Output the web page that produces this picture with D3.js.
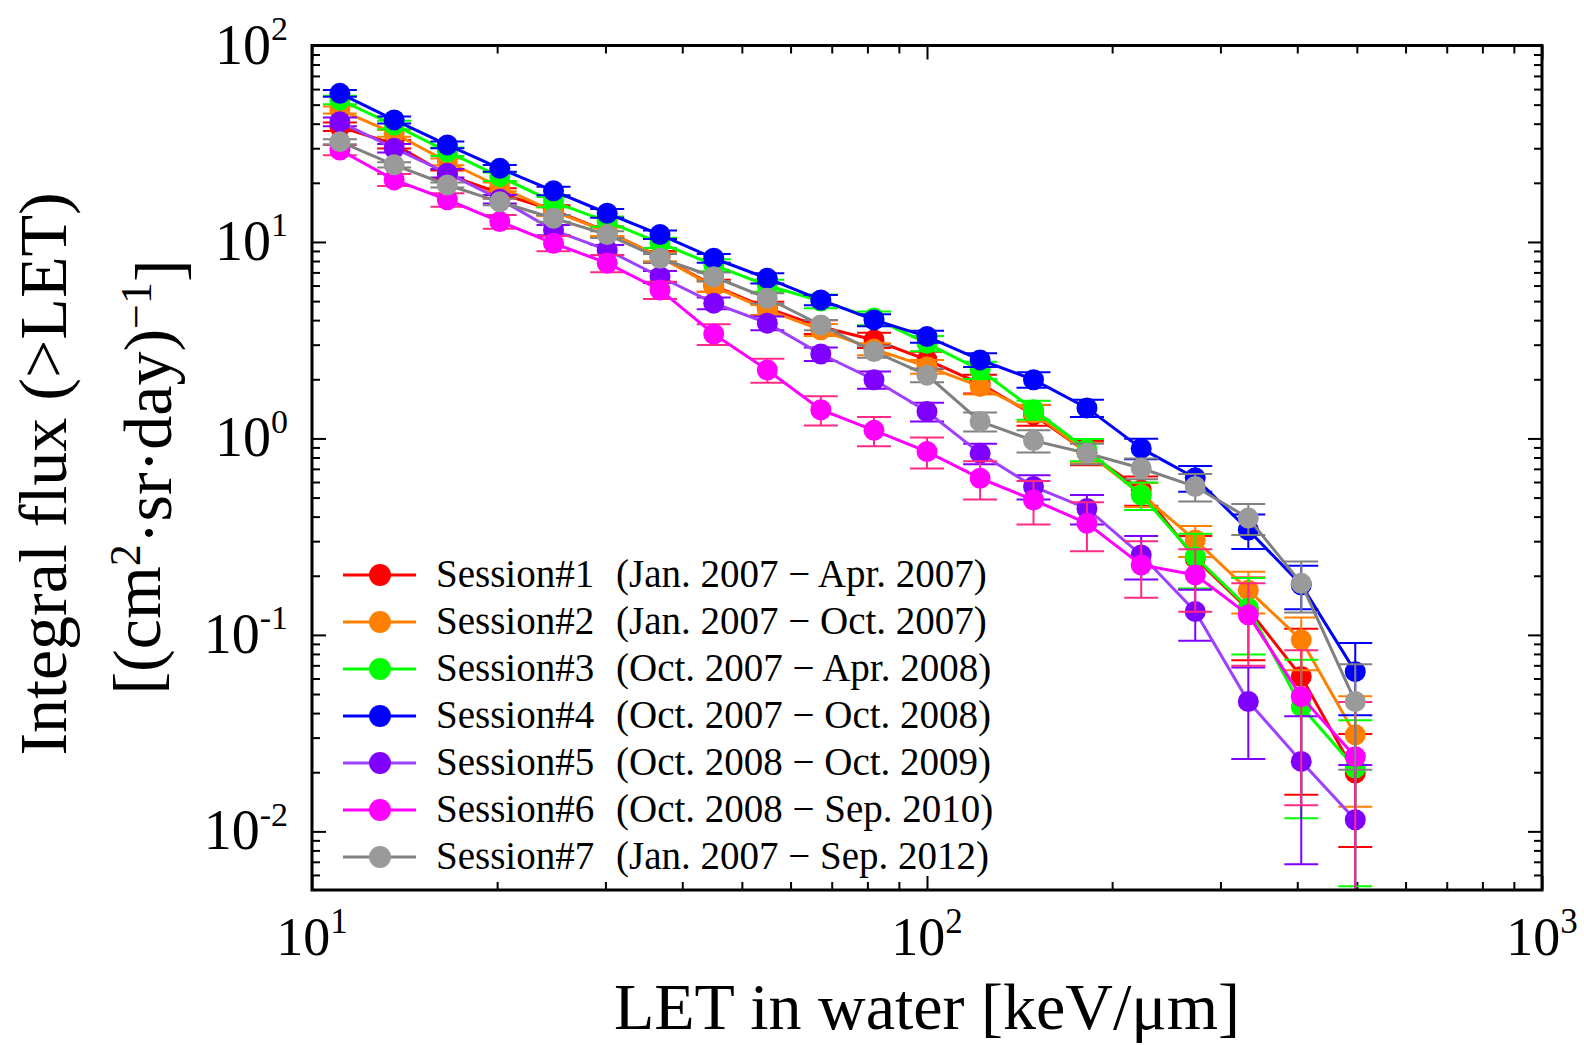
<!DOCTYPE html>
<html>
<head>
<meta charset="utf-8">
<script src="https://cdn.jsdelivr.net/npm/d3@7"></script>
<style>
  body { margin: 0; background: #fff; }
  svg { display: block; }
  text { font-family: "Liberation Serif", "Times New Roman", serif; fill: #000; }
</style>
</head>
<body>
<svg width="1584" height="1045"></svg>
<script>
// LET bin values (keV/um)
var letValues = [11.1, 13.6, 16.6, 20.2, 24.7, 30.2, 36.8, 45.0, 55.0, 67.2,
                 82.0, 100, 122, 149, 182, 223, 273, 333, 406, 497];

var sessionNames = ["Session#1", "Session#2", "Session#3", "Session#4",
                    "Session#5", "Session#6", "Session#7"];
var sessionPeriods = ["(Jan. 2007 \u2212 Apr. 2007)", "(Jan. 2007 \u2212 Oct. 2007)",
                      "(Oct. 2007 \u2212 Apr. 2008)", "(Oct. 2007 \u2212 Oct. 2008)",
                      "(Oct. 2008 \u2212 Oct. 2009)", "(Oct. 2008 \u2212 Sep. 2010)",
                      "(Jan. 2007 \u2212 Sep. 2012)"];

// integral flux per session
var flux1 = [38.6, 31.5, 22.0, 17.7, 14.5, 11.3, 8.4, 6.0, 4.6, 3.7, 3.17, 2.51, 1.9, 1.32, 0.85, 0.547, 0.245, 0.135, 0.0614, 0.0198];
var flux2 = [47, 35.7, 25.6, 19.1, 14.3, 11.3, 8.4, 5.93, 4.51, 3.57, 2.85, 2.32, 1.84, 1.35, 0.85, 0.52, 0.304, 0.169, 0.0944, 0.031];
var flux3 = [52.8, 39.4, 28.8, 21.5, 16, 12.7, 9.9, 7.64, 6.0, 5.0, 4.1, 3.05, 2.23, 1.40, 0.88, 0.515, 0.25, 0.137, 0.0432, 0.021];
var flux4 = [57.1, 41.8, 31.2, 23.7, 18.2, 14.0, 10.9, 8.26, 6.53, 5.07, 4.01, 3.30, 2.51, 1.99, 1.43, 0.89, 0.63, 0.342, 0.18, 0.065];
var flux5 = [40.9, 30, 22.4, 16.5, 11.5, 9.1, 6.65, 4.88, 3.86, 2.69, 1.99, 1.37, 0.84, 0.569, 0.44, 0.255, 0.1315, 0.0458, 0.0227, 0.01146];
var flux6 = [29.4, 20.7, 16.4, 12.7, 9.85, 7.8, 5.7, 3.4, 2.23, 1.40, 1.10, 0.857, 0.627, 0.486, 0.37, 0.227, 0.202, 0.1265, 0.0485, 0.024];
var flux7 = [32.4, 24.7, 19.5, 16.0, 13.2, 10.9, 8.26, 6.65, 5.17, 3.78, 2.77, 2.10, 1.22, 0.975, 0.84, 0.705, 0.569, 0.393, 0.183, 0.0458];

// relative error (fraction of flux)
var err1 = [0.05, 0.05, 0.05, 0.06, 0.06, 0.06, 0.07, 0.07, 0.08, 0.08, 0.09, 0.10, 0.11, 0.12, 0.14, 0.17, 0.30, 0.45, 0.75, 0.58];
var err2 = [0.04, 0.04, 0.04, 0.05, 0.05, 0.05, 0.05, 0.06, 0.06, 0.07, 0.07, 0.08, 0.09, 0.10, 0.12, 0.14, 0.18, 0.24, 0.30, 0.57];
var err3 = [0.05, 0.05, 0.05, 0.05, 0.06, 0.06, 0.06, 0.07, 0.07, 0.08, 0.08, 0.09, 0.10, 0.11, 0.13, 0.16, 0.31, 0.42, 0.73, 0.75];
var err4 = [0.04, 0.04, 0.04, 0.04, 0.05, 0.05, 0.05, 0.05, 0.06, 0.06, 0.07, 0.07, 0.08, 0.09, 0.10, 0.12, 0.15, 0.20, 0.25, 0.40];
var err5 = [0.05, 0.05, 0.05, 0.05, 0.06, 0.06, 0.07, 0.07, 0.08, 0.08, 0.10, 0.11, 0.12, 0.14, 0.17, 0.25, 0.29, 0.49, 0.70, 0.90];
var err6 = [0.06, 0.07, 0.08, 0.08, 0.09, 0.10, 0.10, 0.12, 0.14, 0.17, 0.17, 0.18, 0.22, 0.25, 0.28, 0.32, 0.35, 0.45, 0.72, 0.90];
var err7 = [0.03, 0.03, 0.03, 0.04, 0.04, 0.04, 0.05, 0.05, 0.06, 0.06, 0.07, 0.08, 0.11, 0.13, 0.12, 0.12, 0.16, 0.18, 0.29, 0.55];

var lineColors   = ["#ff0000", "#ff8000", "#00ff00", "#0000ff", "#a040ff", "#ff00ff", "#808080"];
var markerColors = ["#ff0000", "#ff8000", "#00ff00", "#0000ff", "#8000ff", "#ff00ff", "#9a9a9a"];
var errColors    = ["#ff0000", "#ff8000", "#00ff00", "#0000ff", "#8000ff", "#ff2a85", "#808080"];

var fluxes = [flux1, flux2, flux3, flux4, flux5, flux6, flux7];
var errs = [err1, err2, err3, err4, err5, err6, err7];

var svg = d3.select("svg"),
    margin = {top: 45.5, left: 312, right: 42, bottom: 155},
    width = 1584 - margin.left - margin.right,
    height = 1045 - margin.top - margin.bottom,
    g = svg.append("g").attr("transform", "translate(" + margin.left + "," + margin.top + ")");

var x = d3.scaleLog().domain([10, 1000]).range([0, width]);
var y = d3.scaleLog().domain([0.00503, 100]).range([height, 0]);

var xMajor = [10, 100, 1000];
var xMinor = [20, 30, 40, 50, 60, 70, 80, 90, 200, 300, 400, 500, 600, 700, 800, 900];
var yMajor = [0.01, 0.1, 1, 10, 100];
var yMinor = [0.006, 0.007, 0.008, 0.009, 0.02, 0.03, 0.04, 0.05, 0.06, 0.07, 0.08, 0.09,
              0.2, 0.3, 0.4, 0.5, 0.6, 0.7, 0.8, 0.9, 2, 3, 4, 5, 6, 7, 8, 9,
              20, 30, 40, 50, 60, 70, 80, 90];

function tickAxis(axis, vals, len) {
  return axis.tickValues(vals).tickSize(-len).tickFormat("");
}
function styleAxis(sel) {
  sel.select(".domain").remove();
  sel.selectAll("line").attr("stroke", "#000").attr("stroke-width", 2);
}

[[14, xMajor], [8, xMinor]].forEach(function(t) {
  g.append("g").attr("transform", "translate(0," + height + ")")
    .call(tickAxis(d3.axisBottom(x), t[1], t[0])).call(styleAxis);
  g.append("g")
    .call(tickAxis(d3.axisTop(x), t[1], t[0])).call(styleAxis);
});
[[14, yMajor], [8, yMinor]].forEach(function(t) {
  g.append("g")
    .call(tickAxis(d3.axisLeft(y), t[1], t[0])).call(styleAxis);
  g.append("g").attr("transform", "translate(" + width + ",0)")
    .call(tickAxis(d3.axisRight(y), t[1], t[0])).call(styleAxis);
});

// tick labels
xMajor.forEach(function(v) {
  var t = g.append("text")
    .attr("x", x(v))
    .attr("y", height + 65)
    .attr("text-anchor", "middle")
    .style("font-size", "54px");
  t.append("tspan").text("10");
  t.append("tspan").attr("dy", "-0.62em").style("font-size", "35px").text(Math.round(Math.log10(v)));
});
yMajor.forEach(function(v) {
  var e = Math.round(Math.log10(v));
  var t = g.append("text")
    .attr("x", -24)
    .attr("y", y(v) + 18)
    .attr("text-anchor", "end")
    .style("font-size", "56px");
  t.append("tspan").text("10");
  t.append("tspan").attr("dy", "-0.7em").style("font-size", "34px").text(e < 0 ? "-" + (-e) : e);
});

// series
var line = d3.line()
  .x(function(d) { return x(d.x); })
  .y(function(d) { return y(d.y); });

fluxes.forEach(function(f, s) {
  var pts = f.map(function(v, i) {
    return {x: letValues[i], y: v, lo: v * (1 - errs[s][i]), hi: v * (1 + errs[s][i])};
  });
  var sg = g.append("g");

  var eb = sg.selectAll("g.err").data(pts).enter().append("g")
    .attr("stroke", errColors[s]).attr("stroke-width", 2);
  eb.append("line")
    .attr("x1", function(d) { return x(d.x); })
    .attr("x2", function(d) { return x(d.x); })
    .attr("y1", function(d) { return d.lo > y.domain()[0] ? y(d.lo) : height; })
    .attr("y2", function(d) { return y(d.hi); });
  eb.append("line")
    .attr("x1", function(d) { return x(d.x) - 17; })
    .attr("x2", function(d) { return x(d.x) + 17; })
    .attr("y1", function(d) { return y(d.hi); })
    .attr("y2", function(d) { return y(d.hi); });
  eb.filter(function(d) { return d.lo > y.domain()[0]; }).append("line")
    .attr("x1", function(d) { return x(d.x) - 17; })
    .attr("x2", function(d) { return x(d.x) + 17; })
    .attr("y1", function(d) { return y(d.lo); })
    .attr("y2", function(d) { return y(d.lo); });

  sg.append("path").datum(pts)
    .attr("fill", "none")
    .attr("stroke", lineColors[s])
    .attr("stroke-width", 3)
    .attr("d", line);

  sg.selectAll("circle").data(pts).enter().append("circle")
    .attr("cx", function(d) { return x(d.x); })
    .attr("cy", function(d) { return y(d.y); })
    .attr("r", 10.5)
    .attr("fill", markerColors[s]);
});

// frame
g.append("rect")
  .attr("width", width).attr("height", height)
  .attr("fill", "none").attr("stroke", "#000").attr("stroke-width", 3);

// legend
var legend = g.append("g")
  .selectAll("g")
  .data(sessionNames)
  .enter().append("g")
  .attr("transform", function(d, i) { return "translate(0," + (529.5 + i * 47) + ")"; });

legend.append("line")
  .attr("x1", 31).attr("x2", 104)
  .attr("stroke", function(d, i) { return lineColors[i]; })
  .attr("stroke-width", 3);
legend.append("circle")
  .attr("cx", 68).attr("r", 11)
  .attr("fill", function(d, i) { return markerColors[i]; });
legend.append("text")
  .attr("x", 124).attr("y", 12)
  .style("font-size", "39px")
  .text(function(d) { return d; });
legend.append("text")
  .attr("x", 304).attr("y", 12)
  .style("font-size", "39px")
  .text(function(d, i) { return sessionPeriods[i]; });

// axis titles
svg.append("text")
  .attr("x", margin.left + width / 2)
  .attr("y", 1029)
  .attr("text-anchor", "middle")
  .style("font-size", "66px")
  .text("LET in water [keV/\u03bcm]");

var yt1 = svg.append("text")
  .attr("transform", "translate(66,474) rotate(-90)")
  .attr("text-anchor", "middle")
  .style("font-size", "68px")
  .text("Integral flux (>LET)");

var yt2 = svg.append("text")
  .attr("transform", "translate(160,477) rotate(-90)")
  .attr("text-anchor", "middle")
  .style("font-size", "68px");
yt2.append("tspan").text("[(cm");
yt2.append("tspan").attr("dy", "-0.45em").style("font-size", "44px").text("2");
yt2.append("tspan").attr("dy", "0.45em").text("\u00b7sr\u00b7day)");
yt2.append("tspan").attr("dy", "-0.45em").style("font-size", "44px").text("\u22121");
yt2.append("tspan").attr("dy", "0.45em").text("]");
</script>
</body>
</html>
